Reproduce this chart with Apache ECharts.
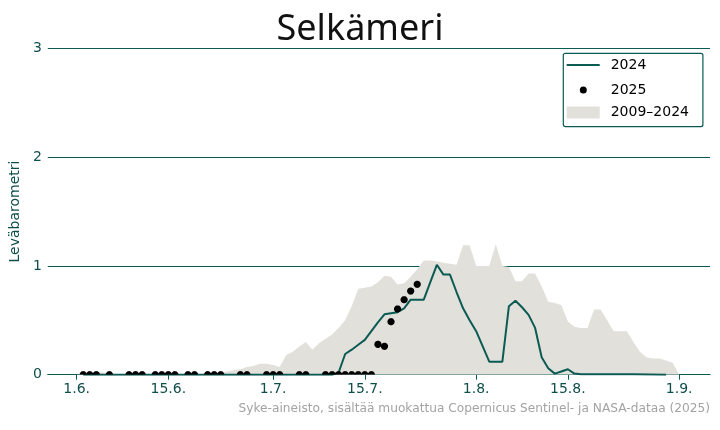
<!DOCTYPE html>
<html>
<head>
<meta charset="utf-8">
<script src="https://cdn.jsdelivr.net/npm/echarts@6/dist/echarts.min.js"></script>
<style>html,body{margin:0;padding:0;background:#fff}#c{width:720px;height:430px}</style>
</head>
<body>
<div id="c"></div>
<script>
// x values are days counted from 1 June
const xTickDays = [0, 14, 30, 44, 61, 75, 92];
const xTickLabels = ['1.6.', '15.6.', '1.7.', '15.7.', '1.8.', '15.8.', '1.9.'];
const yTicks = [0, 1, 2, 3];

const rangeDays = [0,1,2,3,4,5,6,7,8,9,10,11,12,13,14,15,16,17,18,19,20,21,22,23,24,25,26,27,28,29,30,31,32,33,34,35,36,37,38,39,40,41,42,43,44,45,46,47,48,49,50,51,52,53,54,55,56,57,58,59,60,61,62,63,64,65,66,67,68,69,70,71,72,73,74,75,76,77,78,79,80,81,82,83,84,85,86,87,88,89,90,91,92];
const rangeMax = [0,0.01,0.02,0.03,0.02,0.01,0,0,0,0,0,0,0,0,0,0,0,0,0,0,0.01,0.01,0.02,0.03,0.04,0.05,0.07,0.08,0.10,0.10,0.09,0.07,0.18,0.21,0.26,0.30,0.23,0.29,0.33,0.37,0.43,0.50,0.63,0.79,0.80,0.81,0.85,0.91,0.90,0.83,0.84,0.90,0.97,1.05,1.05,1.04,1.03,1.02,1.01,1.19,1.19,1.00,1.00,1.00,1.20,1.00,0.99,0.86,0.86,0.93,0.93,0.81,0.67,0.66,0.64,0.49,0.44,0.43,0.43,0.60,0.60,0.50,0.40,0.40,0.40,0.30,0.21,0.16,0.15,0.15,0.13,0.11,0];

const line2024Days = [1,5,10,15,20,25,30,35,39,40,41,42,43,44,45,46,47,48,49,50,51,52,53,54,55,56,57,58,59,60,61,62,63,64,65,66,67,68,69,70,71,72,73,74,75,76,77,80,85,90];
const line2024Values = [0,0,0,0,0,0,0,0,0,0.02,0.19,0.23,0.275,0.32,0.40,0.48,0.555,0.565,0.575,0.61,0.69,0.69,0.69,0.85,1.01,0.92,0.92,0.76,0.61,0.50,0.40,0.26,0.12,0.12,0.12,0.63,0.68,0.62,0.55,0.43,0.16,0.06,0.01,0.03,0.05,0.01,0.005,0.005,0.005,0];

const obs2025Days = [1,2,3,5,8,9,10,12,13,14,15,17,18,20,21,22,25,26,29,30,31,34,35,38,39,40,41,42,43,44,45,46,47,48,49,50,51,52];
const obs2025Values = [0,0,0,0,0,0,0,0,0,0,0,0,0,0,0,0,0,0,0,0,0,0,0,0,0,0,0,0,0,0,0,0.279,0.261,0.487,0.604,0.689,0.769,0.831];

const TEAL = '#0b5a53';
const TEXT = '#0f4f4b';
const GREY = '#e1e0da';
const FONT = 'DejaVu Sans';

const zip = (a, b) => a.map((v, i) => [v, b[i]]);

const chart = echarts.init(document.getElementById('c'), null, {renderer: 'canvas'});
const legendText = pad => ({fontFamily: FONT, fontSize: 14, color: '#000', lineHeight: 16, padding: [0, 0, 0, pad]});
const legendBase = {orient: 'vertical', padding: 0, selectedMode: false};
chart.setOption({
  animation: false,
  title: [
    {text: 'Selkämeri', left: 'center', top: 7,
     textStyle: {fontFamily: 'Noto Sans', fontSize: 36, fontWeight: 'normal', color: '#111'}},
    {text: 'Syke-aineisto, sisältää muokattua Copernicus Sentinel- ja NASA-dataa (2025)', right: 10, top: 403, padding: 0,
     textStyle: {fontFamily: FONT, fontSize: 12.2, fontWeight: 'normal', color: '#a3a3a3'}}
  ],
  grid: {left: 47, right: 10, top: 48.3, bottom: 55.3, containLabel: false},
  xAxis: {
    type: 'value', min: -4.4, max: 96.7,
    axisLine: {show: true, lineStyle: {color: TEAL, width: 1.2}},
    axisTick: {show: true, customValues: xTickDays, length: 5, lineStyle: {color: TEAL}},
    axisLabel: {customValues: xTickDays, margin: 8, fontFamily: FONT, fontSize: 14, color: TEXT,
      formatter: v => xTickLabels[xTickDays.indexOf(v)] || ''},
    splitLine: {show: false}
  },
  yAxis: {
    type: 'value', min: yTicks[0], max: yTicks[yTicks.length - 1], interval: 1,
    name: 'Leväbarometri', nameLocation: 'middle', nameRotate: 90, nameGap: 21,
    nameTextStyle: {fontFamily: FONT, fontSize: 14, color: TEXT},
    axisLine: {show: false}, axisTick: {show: false},
    axisLabel: {margin: 6, fontFamily: FONT, fontSize: 14, color: TEXT},
    splitLine: {show: true, lineStyle: {color: TEAL, width: 1.2}}
  },
  legend: [
    Object.assign({}, legendBase, {left: 566.7, top: 57, itemWidth: 33, itemHeight: 2,
      textStyle: legendText(6), data: [{name: '2024', icon: 'rect', itemStyle: {color: TEAL}}]}),
    Object.assign({}, legendBase, {left: 579.8, top: 82, itemWidth: 7, itemHeight: 7,
      textStyle: legendText(19), data: [{name: '2025', icon: 'circle'}]}),
    Object.assign({}, legendBase, {left: 566.7, top: 104.5, itemWidth: 33, itemHeight: 12,
      textStyle: legendText(6), data: [{name: '2009–2024', icon: 'rect'}]})
  ],
  graphic: [{
    type: 'rect', left: 562.7, top: 52.7, z: 3,
    shape: {width: 139.6, height: 73.3, r: 2},
    style: {fill: 'rgba(255,255,255,0.85)', stroke: TEAL, lineWidth: 1.2}
  }],
  series: [
    {name: '2009–2024', type: 'line', data: zip(rangeDays, rangeMax), symbol: 'none', silent: true,
     lineStyle: {width: 0}, itemStyle: {color: GREY}, areaStyle: {color: GREY, opacity: 1}, z: 1},
    {name: '2024', type: 'line', data: zip(line2024Days, line2024Values), symbol: 'none', silent: true,
     lineStyle: {color: TEAL, width: 2}, itemStyle: {color: TEAL}, z: 2},
    {name: '2025', type: 'custom', data: zip(obs2025Days, obs2025Values), clip: true,
     encode: {x: 0, y: 1}, itemStyle: {color: '#000'}, z: 3,
     renderItem: (params, api) => {
       const p = api.coord([api.value(0), api.value(1)]);
       const cs = params.coordSys;
       const bottom = cs.y + cs.height;
       const r = 3.6;
       // circle outline clipped to the plotting area (marker cut by the x-axis)
       const pts = [];
       for (let k = 0; k < 36; k++) {
         const a = (k / 36) * Math.PI * 2;
         pts.push([p[0] + r * Math.cos(a), Math.min(p[1] + r * Math.sin(a), bottom)]);
       }
       return {type: 'polygon', shape: {points: pts}, style: {fill: '#000'}};
     }}
  ]
});
</script>
</body>
</html>
